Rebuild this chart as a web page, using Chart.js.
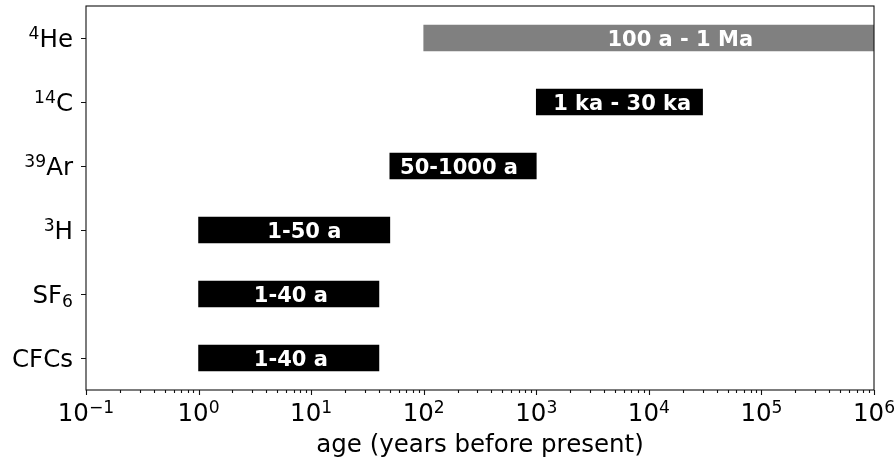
<!DOCTYPE html>
<html>
<head>
<meta charset="utf-8">
<script src="https://cdn.jsdelivr.net/npm/chart.js@4/dist/chart.umd.min.js"></script>
<style>
  html, body { margin: 0; padding: 0; background: #fff; }
  #wrap { width: 895px; height: 459px; }
</style>
</head>
<body>
<div id="wrap"><canvas id="c" width="895" height="459"></canvas></div>
<script>
// Tracer categories (^n = superscript, _n = subscript)
const categories = ['^4He', '^14C', '^39Ar', '^3H', 'SF_6', 'CFCs'];
// Dating range of each tracer, years before present
const rangeStart = [100, 1000, 50, 1, 1, 1];
const rangeEnd = [1e6, 30000, 1000, 50, 40, 40];
// Text written on each bar and the age its text is centred on
const rangeText = ['100 a - 1 Ma', '1 ka - 30 ka', '50-1000 a', '1-50 a', '1-40 a', '1-40 a'];
const labelAge = [19000, 5800, 206, 8.7, 6.6, 6.6];
// Decade exponents labelled on the age axis
const tickExponents = [-1, 0, 1, 2, 3, 4, 5, 6];
const barColors = ['#808080', '#000000', '#000000', '#000000', '#000000', '#000000'];

const FONT = '"DejaVu Sans", "Liberation Sans", sans-serif';
const FS = 24.5;

function parseRich(s) {
  const parts = [];
  const re = /\^(\d+)|_(\d+)|([^\^_]+)/g;
  let m;
  while ((m = re.exec(s)) !== null) {
    if (m[1]) parts.push({ t: m[1], k: 'sup' });
    else if (m[2]) parts.push({ t: m[2], k: 'sub' });
    else parts.push({ t: m[3], k: 'n' });
  }
  return parts;
}

function richWidth(ctx, parts, fs) {
  let w = 0;
  for (const p of parts) {
    ctx.font = (p.k === 'n' ? fs : fs * 0.7) + 'px ' + FONT;
    w += ctx.measureText(p.t).width;
  }
  return w;
}

function drawRich(ctx, parts, x, baseline, fs) {
  let cx = x;
  for (const p of parts) {
    let y = baseline;
    if (p.k === 'n') ctx.font = fs + 'px ' + FONT;
    else {
      ctx.font = (fs * 0.7) + 'px ' + FONT;
      y = p.k === 'sup' ? baseline - fs * 0.34 : baseline + fs * 0.17;
    }
    ctx.fillText(p.t, cx, y);
    cx += ctx.measureText(p.t).width;
  }
}

const axesPlugin = {
  id: 'axesPlugin',
  afterDatasetsDraw(chart) {
    const ctx = chart.ctx;
    const xs = chart.scales.x;
    const meta = chart.getDatasetMeta(0);
    ctx.save();
    // range text on the bars
    ctx.fillStyle = '#ffffff';
    ctx.font = 'bold 21px ' + FONT;
    ctx.textAlign = 'center';
    ctx.textBaseline = 'alphabetic';
    meta.data.forEach((bar, i) => {
      const x = xs.getPixelForValue(labelAge[i]);
      ctx.fillText(rangeText[i], x, bar.y + 7.6);
    });
    ctx.restore();
  },
  afterDraw(chart) {
    const ctx = chart.ctx;
    const a = chart.chartArea;
    const xs = chart.scales.x, ys = chart.scales.y;
    ctx.save();
    ctx.strokeStyle = '#111';
    ctx.lineWidth = 1.1;
    ctx.strokeRect(a.left, a.top, a.right - a.left, a.bottom - a.top);

    // x ticks: decades and minor ticks between them
    ctx.beginPath();
    for (let i = 0; i < tickExponents.length; i++) {
      const e = tickExponents[i];
      const px = Math.round(xs.getPixelForValue(Math.pow(10, e))) + 0.5;
      ctx.moveTo(px, a.bottom); ctx.lineTo(px, a.bottom + 5);
      if (i < tickExponents.length - 1) {
        for (let k = 2; k <= 9; k++) {
          const mx = Math.round(xs.getPixelForValue(k * Math.pow(10, e))) + 0.5;
          ctx.moveTo(mx, a.bottom); ctx.lineTo(mx, a.bottom + 3);
        }
      }
    }
    // y ticks
    ys.ticks.forEach((t, i) => {
      const py = Math.round(ys.getPixelForTick(i)) + 0.5;
      ctx.moveTo(a.left, py); ctx.lineTo(a.left - 5, py);
    });
    ctx.stroke();

    ctx.fillStyle = '#000';
    ctx.textAlign = 'left';
    ctx.textBaseline = 'alphabetic';
    // x tick labels: 10^e
    tickExponents.forEach(e => {
      const parts = [{ t: '10', k: 'n' }, { t: String(e).replace('-', '\u2212'), k: 'sup' }];
      const w = richWidth(ctx, parts, FS);
      const px = xs.getPixelForValue(Math.pow(10, e));
      drawRich(ctx, parts, px - w / 2, a.bottom + 31, FS);
    });
    // y tick labels
    categories.forEach((c, i) => {
      const parts = parseRich(c);
      const w = richWidth(ctx, parts, FS);
      const py = ys.getPixelForTick(i);
      drawRich(ctx, parts, a.left - 13 - w, py + FS * 0.37, FS);
    });
    // axis title
    ctx.font = FS + 'px ' + FONT;
    ctx.textAlign = 'center';
    ctx.fillText('age (years before present)', (a.left + a.right) / 2, a.bottom + 62);
    ctx.restore();
  }
};

new Chart(document.getElementById('c'), {
  type: 'bar',
  data: {
    labels: categories,
    datasets: [{
      data: rangeStart.map((s, i) => [s, rangeEnd[i]]),
      backgroundColor: barColors,
      borderWidth: 0,
      barThickness: 26
    }]
  },
  options: {
    indexAxis: 'y',
    responsive: false,
    animation: false,
    devicePixelRatio: 1,
    layout: { padding: { left: 86, right: 21, top: 6, bottom: 69 } },
    plugins: { legend: { display: false }, tooltip: { enabled: false } },
    scales: {
      x: { type: 'logarithmic', min: 0.1, max: 1e6, display: false },
      y: { type: 'category', display: false, offset: true }
    }
  },
  plugins: [axesPlugin]
});
</script>
</body>
</html>
